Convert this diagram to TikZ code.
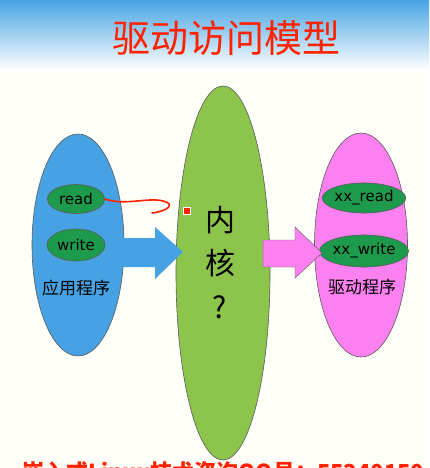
\documentclass[tikz,border=0pt]{standalone}
\usepackage{fontspec}
\setmainfont{DejaVu Sans}
\newfontfamily\cjk{Noto Sans CJK SC}
\newfontfamily\lat{DejaVu Sans}
\usetikzlibrary{shapes.geometric}
\definecolor{bgblue}{HTML}{48A4E4}
\definecolor{appblue}{HTML}{46A2E2}
\definecolor{kgreen}{HTML}{8CC44C}
\definecolor{drvpink}{HTML}{FC80F0}
\definecolor{fgreen}{HTML}{1E9A4C}
\definecolor{tred}{HTML}{FF2200}
\definecolor{edge}{HTML}{5A5A5A}
\tikzset{
  big/.style={ellipse, draw=edge, line width=0.6pt, inner sep=0pt},
  func/.style={ellipse, draw=edge, line width=0.6pt, fill=fgreen, inner sep=0pt, font=\lat\fontsize{15}{15}\selectfont},
  lab/.style={font=\cjk\fontsize{17}{17}\selectfont, inner sep=0pt},
  blockarrow/.style={draw=edge, line width=0.4pt},
}
\begin{document}
\begin{tikzpicture}[x=1pt,y=-1pt]
\useasboundingbox (0,0) rectangle (429,468);
\clip (0,0) rectangle (429,468);
\fill[white!98!yellow] (0,0) rectangle (429,468);
\shade[top color=bgblue, bottom color=white] (0,0) rectangle (429,70);
\node[font=\cjk\fontsize{38}{38}\selectfont, text=tred, inner sep=0pt] (title) at (226,38) {驱动访问模型};
% app
\node[big, fill=appblue, minimum width=92pt, minimum height=222pt] (app) at (78,245) {};
\node[func, minimum width=57pt, minimum height=29pt] (read) at (76,199) {read};
\node[func, minimum width=58pt, minimum height=32pt] (write) at (76,245) {write};
\node[lab] (applab) at (76,288) {应用程序};
% kernel
\node[big, fill=kgreen, minimum width=94pt, minimum height=374pt] (kernel) at (223,273) {};
\node[font=\cjk\fontsize{30}{30}\selectfont, inner sep=0pt] (knei) at (220,220) {内};
\node[font=\cjk\fontsize{30}{30}\selectfont, inner sep=0pt] (khe) at (220,263) {核};
\node[font=\cjk\fontsize{30}{30}\selectfont, inner sep=0pt] (kq) at (220,307) {?};
% driver
\node[big, fill=drvpink, minimum width=93pt, minimum height=224pt] (drv) at (361,245) {};
\node[func, minimum width=62pt, minimum height=30pt] (xxread) at (364,198) {xx\_read};
\node[func, minimum width=64pt, minimum height=32pt] (xxwrite) at (364,251) {xx\_write};
\node[lab] (drvlab) at (362,287) {驱动程序};
% block arrows
\fill[appblue] (123,238) -- (155,238) -- (155,227) -- (183,252) -- (155,279) -- (155,267) -- (123,267) -- cycle;
\draw[blockarrow, fill=drvpink] (263,240) -- (295,240) -- (295,227) -- (322,253) -- (295,278) -- (295,267) -- (263,267) -- cycle;
% red freehand arrow
\draw[tred, line width=1.6pt, line cap=round, line join=round] (read.east) .. controls (125,206) and (148,197) .. (163,201) .. controls (176,204) and (168,211) .. (152,213);
% red marker
\node[draw=white, line width=1.5pt, fill=tred, minimum size=7pt, inner sep=0pt] (mark) at (187,211) {};
% bottom text (clipped at the lower edge, as in the reference)
\node[anchor=north west, font=\cjk\bfseries\fontsize{22}{22}\selectfont, text=tred, inner sep=0pt] (foot) at (22,461) {嵌入式Linux技术咨询QQ号：55340150};
\end{tikzpicture}
\end{document}
